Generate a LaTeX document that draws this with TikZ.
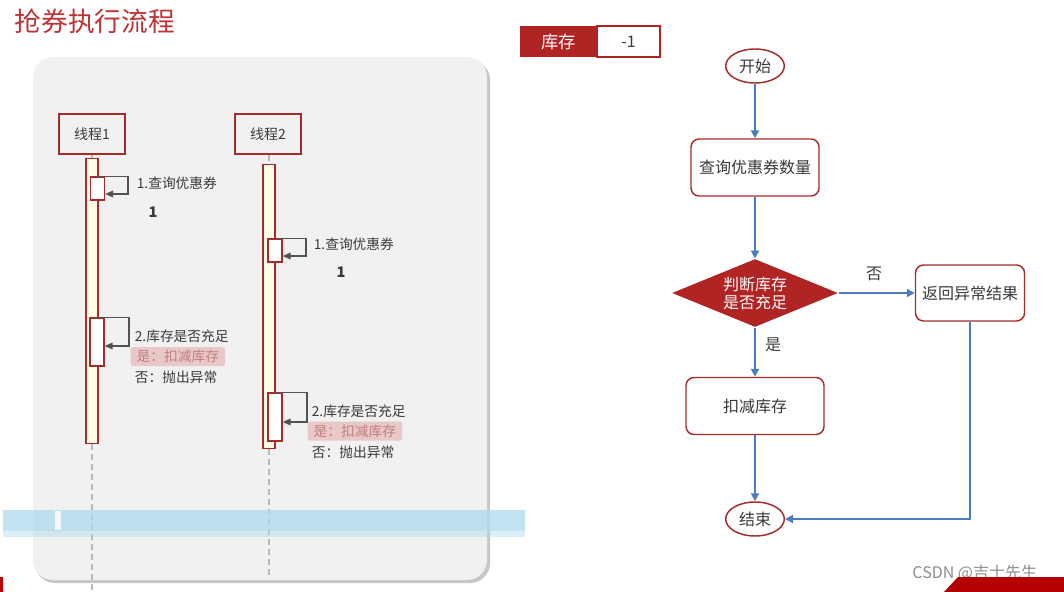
\documentclass[tikz,border=0pt]{standalone}
\usepackage{fontspec}
\setmainfont{Noto Sans CJK SC}
\usetikzlibrary{shapes.geometric,arrows.meta}

\definecolor{titlered}{RGB}{190,52,52}
\definecolor{boxred}{RGB}{166,44,44}
\definecolor{diamondred}{RGB}{176,36,36}
\definecolor{flowblue}{RGB}{74,125,190}
\definecolor{textgray}{RGB}{58,58,58}
\definecolor{panelgray}{RGB}{241,241,241}
\definecolor{lifeyellow}{RGB}{255,253,228}
\definecolor{pinkbg}{RGB}{232,200,200}
\definecolor{pinktext}{RGB}{196,126,126}
\definecolor{bandblue}{RGB}{176,218,238}

\tikzset{every picture/.style={line width=0.75pt}}
\tikzset{
  threadbox/.style={draw=boxred, line width=1.1pt, fill=panelgray, minimum width=49.5pt, minimum height=30pt, inner sep=0pt, text=textgray, font=\fontsize{10.5}{12}\selectfont},
  lifebar/.style={draw=boxred, line width=0.9pt, fill=lifeyellow, minimum width=9pt, inner sep=0pt, anchor=north},
  actbox/.style={draw=boxred, line width=0.9pt, fill=white, minimum width=10.5pt, inner sep=0pt},
  selfarrow/.style={draw=black!68, line width=1pt, -{Triangle[length=6pt,width=5pt]}},
  lifedash/.style={draw=black!28, line width=0.8pt, dash pattern=on 4.5pt off 3pt},
  msglabel/.style={anchor=west, inner sep=1pt, text=textgray, font=\fontsize{10.3}{12}\selectfont},
  pinkmark/.style={anchor=west, fill=pinkbg, rounded corners=2pt, minimum width=71pt, minimum height=14.25pt, inner sep=0pt, text=pinktext, font=\fontsize{10.3}{12}\selectfont},
  countlabel/.style={text=textgray, font=\fontsize{11}{12}\selectfont\bfseries},
  termnode/.style={ellipse, draw=boxred, line width=1.1pt, fill=white, minimum width=44pt, minimum height=25.5pt, inner sep=0pt, text=textgray, font=\fontsize{12}{14}\selectfont},
  procbox/.style={rectangle, rounded corners=6pt, draw=boxred, line width=1.1pt, fill=white, minimum height=42.75pt, inner sep=0pt, text=textgray, font=\fontsize{12}{14}\selectfont},
  decision/.style={diamond, fill=diamondred, aspect=2.4, minimum width=124.5pt, minimum height=51pt, inner sep=0pt, align=center, text=white, font=\fontsize{12}{13.5}\selectfont},
  flowarrow/.style={draw=flowblue, line width=1.5pt, -{Triangle[length=6pt,width=6pt]}},
  flowlabel/.style={text=textgray, font=\fontsize{12}{14}\selectfont}
}

\begin{document}
\begin{tikzpicture}[x=0.75pt,y=0.75pt,yscale=-1,xscale=1]
	\useasboundingbox (0,0) rectangle (1064,592);

	% Text Node
	\node[anchor=west, text=titlered, font=\fontsize{20}{24}\selectfont] (title) at (10,21.5) {抢券执行流程};

	%Shape: Panel with shadow
	\fill[black!22, rounded corners=15pt] (35,60) rectangle (490,583);
	\fill[panelgray, rounded corners=15pt] (33,57) rectangle (487,580);

	%Shape: Threads and lifelines
	\node[threadbox] (thread1) at (92,134) {线程1};
	\node[threadbox] (thread2) at (268,134) {线程2};
	\node[lifebar, minimum height=213.75pt] (life1) at (92,158) {};
	\node[lifebar, minimum height=213pt] (life2) at (269,164) {};
	\coordinate (lifeend1) at (92,592);
	\coordinate (lifeend2) at (269,578);
	\draw[lifedash] (thread1) -- (life1);
	\draw[lifedash] (thread2.south -| life2) -- (life2);
	\draw[lifedash] (life1) -- (lifeend1);
	\draw[lifedash] (life2) -- (lifeend2);

	%Shape: Activations
	\node[actbox, minimum height=17.25pt] (act1a) at (97.5,188.5) {};
	\node[actbox, minimum height=17.25pt] (act2a) at (275,250.5) {};
	\node[actbox, minimum height=36pt] (act1b) at (97,342) {};
	\node[actbox, minimum height=36pt] (act2b) at (275,417) {};

	%Straight Lines: self calls
	\coordinate (turn1a) at (128,194);
	\coordinate (turn2a) at (306,256);
	\coordinate (turn1b) at (129,346);
	\coordinate (turn2b) at (307,422);
	\draw[selfarrow] (act1a.north) -| (turn1a) -- (turn1a -| act1a.east);
	\draw[selfarrow] (act2a.north) -| (turn2a) -- (turn2a -| act2a.east);
	\draw[selfarrow] (act1b.north) -| (turn1b) -- (turn1b -| act1b.east);
	\draw[selfarrow] (act2b.north) -| (turn2b) -- (turn2b -| act2b.east);

	% Text Node
	\node[msglabel] (query1) at (135,183) {1.查询优惠券};
	\node[countlabel] (count1) at (153,212) {1};
	\node[msglabel] (query2) at (312,244) {1.查询优惠券};
	\node[countlabel] (count2) at (341,272) {1};
	\node[msglabel] (check1) at (133,336) {2.库存是否充足};
	\node[pinkmark] (yes1) at (130,356.5) {是：扣减库存};
	\node[msglabel] (no1) at (133,377) {否：抛出异常};
	\node[msglabel] (check2) at (310,411) {2.库存是否充足};
	\node[pinkmark] (yes2) at (307,431) {是：扣减库存};
	\node[msglabel] (no2) at (310,452) {否：抛出异常};

	%Shape: Overlay band
	\fill[bandblue, fill opacity=0.75] (3,510) rectangle (525,531);
	\fill[bandblue, fill opacity=0.45] (3,531) rectangle (525,537);
	\fill[white, fill opacity=0.8] (55,511) rectangle (61,530);
	\fill[red!75!black] (0,577) rectangle (3,592);

	%Shape: Stock tag
	\node[fill=diamondred, minimum width=57.75pt, minimum height=23.25pt, inner sep=0pt, outer sep=0pt, text=white, font=\fontsize{13}{15}\selectfont] (stockname) at (558.5,41.5) {库存};
	\node[anchor=west, draw=diamondred, line width=2pt, fill=white, minimum width=47.25pt, minimum height=23.25pt, inner sep=0pt, outer sep=0pt, text=textgray, font=\fontsize{12}{14}\selectfont] (stockvalue) at (stockname.east) {-1};

	%Shape: Flow chart
	\node[termnode] (start) at (755,66) {开始};
	\node[procbox, minimum width=96pt] (query) at (755,167.5) {查询优惠券数量};
	\node[decision] (judge) at (755,293) {判断库存\\是否充足};
	\node[procbox, minimum width=81.75pt, minimum height=42pt] (fail) at (970,293) {返回异常结果};
	\node[procbox, minimum width=103.5pt] (deduct) at (755,406) {扣减库存};
	\node[termnode] (finish) at (755,519) {结束};

	%Straight Lines
	\draw[flowarrow] (start) -- (query);
	\draw[flowarrow] (query) -- (judge);
	\draw[flowarrow] (judge) -- (fail);
	\draw[flowarrow] (judge) -- (deduct);
	\draw[flowarrow] (deduct) -- (finish);
	\draw[flowarrow] (fail) |- (finish);

	% Text Node
	\node[flowlabel] (nolabel) at (874,274) {否};
	\node[flowlabel] (yeslabel) at (773,345) {是};

	% Text Node
	\node[anchor=east, text=black!45, font=\fontsize{12}{14}\selectfont] (watermark) at (1042,573) {CSDN @吉士先生};
	\fill[red!70!black] (944,592) -- (958,577) -- (1064,577) -- (1064,592) -- cycle;

\end{tikzpicture}
\end{document}
